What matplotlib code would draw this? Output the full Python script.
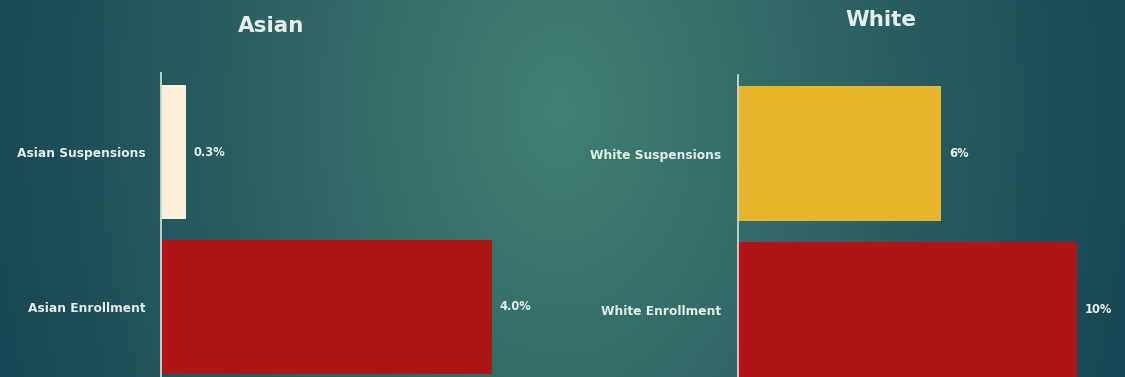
import numpy as np
import matplotlib.pyplot as plt

# data
asian_labels = ["Asian Enrollment", "Asian Suspensions"]
asian_values = [4.0, 0.3]
asian_text = ["4.0%", "0.3%"]

white_labels = ["White Enrollment", "White Suspensions"]
white_values = [10, 6]
white_text = ["10%", "6%"]

W, H = 1125, 377
fig = plt.figure(figsize=(W / 100, H / 100), dpi=100)

# radial teal background
bg = fig.add_axes([0, 0, 1, 1])
yy, xx = np.mgrid[0:H, 0:W]
r = np.sqrt(((xx - 560) / 620.0) ** 2 + ((yy - 110) / 900.0) ** 2)
r = np.clip(r, 0, 1)
c_in = np.array([64, 128, 114]) / 255.0
c_out = np.array([22, 66, 82]) / 255.0
img = c_in[None, None, :] * (1 - r[..., None]) + c_out[None, None, :] * r[..., None]
bg.imshow(img, aspect="auto", extent=[0, W, H, 0])
bg.set_axis_off()

txt = "#e6eeec"
font = "DejaVu Sans"


def px_axes(left, right, top, bottom):
    return fig.add_axes([left / W, 1 - bottom / H, (right - left) / W, (bottom - top) / H])


def panel(ax, labels, values, texts, colors, xmax, ylim, pad):
    ax.barh([0, 1], values, height=0.865, color=colors, zorder=2)
    ax.set_xlim(0, xmax)
    ax.set_ylim(*ylim)
    ax.set_facecolor("none")
    for s in ["top", "right", "bottom"]:
        ax.spines[s].set_visible(False)
    ax.spines["left"].set_color("#c9d9d6")
    ax.spines["left"].set_linewidth(1.3)
    ax.spines["left"].set_zorder(3)
    ax.set_xticks([])
    ax.set_yticks([0, 1])
    ax.set_yticklabels(labels, color=txt, fontsize=8.8, fontweight="bold", family=font)
    ax.tick_params(axis="y", length=0, pad=pad)
    for i, (v, t) in enumerate(zip(values, texts)):
        ax.annotate(t, (v, i), xytext=(5.5, 0), textcoords="offset points",
                    va="center", ha="left", color=txt, fontsize=8.3,
                    fontweight="bold", family=font)


ax1 = px_axes(161, 161 + 331 / 4.0 * 4.5, 73, H)
panel(ax1, asian_labels, asian_values, asian_text, ["#b01515", "#fcf1d8"],
      4.5, (-0.452, 1.51), 11)

ax2 = px_axes(738, 738 + 33.9 * 11, 75, H)
panel(ax2, white_labels, white_values, white_text, ["#b01515", "#e6b52a"],
      11, (-0.43, 1.506), 12)

fig.text(271 / W, 1 - 26 / H, "Asian", ha="center", va="center", color=txt,
         fontsize=15.5, fontweight="bold", family=font)
fig.text(881 / W, 1 - 20 / H, "White", ha="center", va="center", color=txt,
         fontsize=15.5, fontweight="bold", family=font)

fig.savefig("out.png", dpi=100)
